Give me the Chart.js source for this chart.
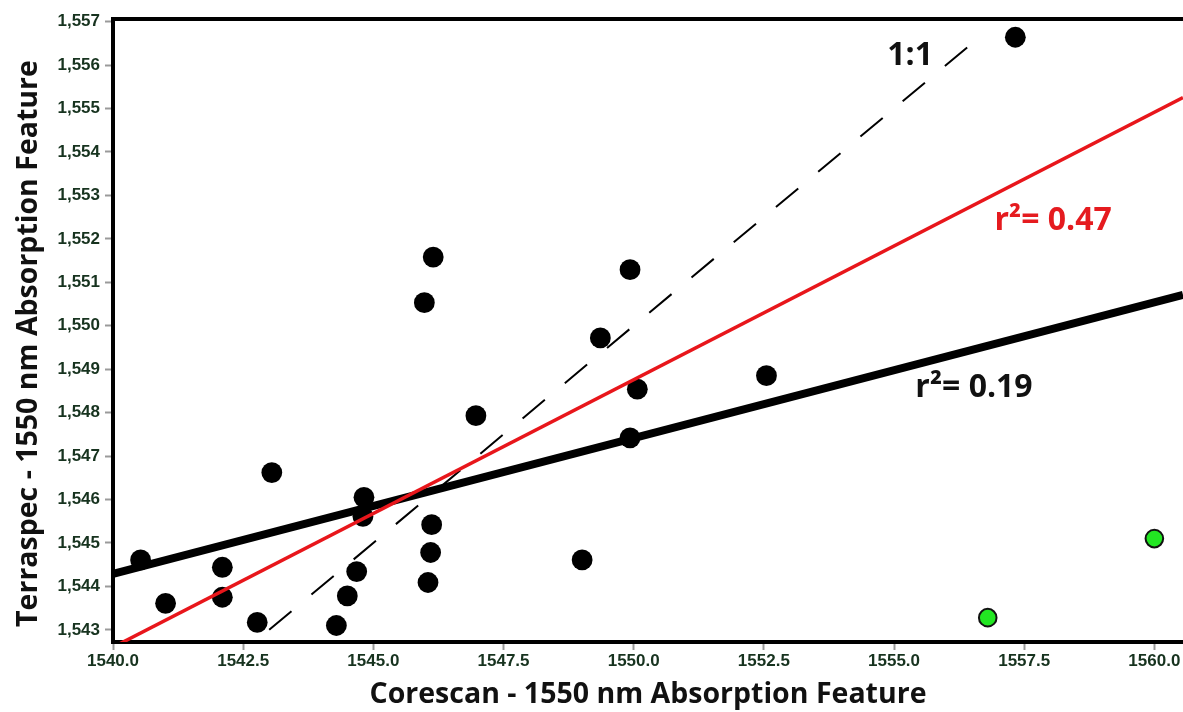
<!DOCTYPE html>
<html>
<head>
<meta charset="utf-8">
<script src="https://cdn.jsdelivr.net/npm/chart.js@4.4.1/dist/chart.umd.min.js"></script>
<style>
  html, body { margin: 0; padding: 0; background: #fff; overflow: hidden; }
  canvas { display: block; }
</style>
</head>
<body>
<canvas id="chart" width="1183" height="712"></canvas>
<script>
// Corescan vs Terraspec position of the 1550 nm absorption feature
const corescanX = [1540.53, 1541.01, 1542.10, 1542.10, 1542.77, 1543.05, 1544.29, 1544.50,
                   1544.68, 1544.82, 1544.80, 1545.98, 1546.15, 1546.12, 1546.10, 1546.05,
                   1546.97, 1549.01, 1549.36, 1549.93, 1549.93, 1550.07, 1552.55, 1557.33];
const terraspecY = [1544.61, 1543.61, 1544.44, 1543.75, 1543.17, 1546.62, 1543.10, 1543.78,
                    1544.34, 1546.05, 1545.61, 1550.53, 1551.58, 1545.42, 1544.78, 1544.09,
                    1547.93, 1544.61, 1549.72, 1551.29, 1547.42, 1548.54, 1548.85, 1556.64];

// samples plotted in green
const outlierX = [1556.80, 1560.00];
const outlierY = [1543.28, 1545.10];

// fitted lines (end points) and the 1:1 reference line
const fitAllX = [1540.00, 1560.55];
const fitAllY = [1544.29, 1550.71];
const fitRedX = [1540.00, 1560.55];
const fitRedY = [1542.60, 1555.25];
const oneToOneX = [1543.00, 1556.70];
const oneToOneY = [1543.00, 1556.70];

// axis ticks
const xTicks = [1540, 1542.5, 1545, 1547.5, 1550, 1552.5, 1555, 1557.5, 1560];
const xTickLabels = ['1540.0', '1542.5', '1545.0', '1547.5', '1550.0', '1552.5', '1555.0', '1557.5', '1560.0'];
const yTicks = [1543, 1544, 1545, 1546, 1547, 1548, 1549, 1550, 1551, 1552, 1553, 1554, 1555, 1556, 1557];
const yTickLabels = ['1,543', '1,544', '1,545', '1,546', '1,547', '1,548', '1,549', '1,550',
                     '1,551', '1,552', '1,553', '1,554', '1,555', '1,556', '1,557'];

// text notes, anchored in data units (left edge, baseline)
const noteText = ['1:1', 'r\u00B2= 0.47', 'r\u00B2= 0.19'];
const noteX = [1554.87, 1556.93, 1555.41];
const noteY = [1556.00, 1552.21, 1548.37];
const noteColor = ['#111111', '#e51b1f', '#111111'];
const noteSize = [32, 32, 32];

const yTitle = 'Terraspec - 1550 nm Absorption Feature';
const yTitleCenter = 1549.59;   // value at the middle of the vertical title

const toPoints = (xs, ys) => xs.map((v, i) => ({ x: v, y: ys[i] }));

const frameAndNotes = {
  id: 'frameAndNotes',
  afterDraw(chart) {
    const { ctx, chartArea, scales } = chart;
    ctx.save();
    // top edge of the plot frame
    ctx.strokeStyle = '#000';
    ctx.lineWidth = 4;
    ctx.beginPath();
    ctx.moveTo(chartArea.left - 2, chartArea.top);
    ctx.lineTo(chartArea.right, chartArea.top);
    ctx.stroke();

    // line labels
    ctx.textAlign = 'left';
    ctx.textBaseline = 'alphabetic';
    noteText.forEach((t, i) => {
      ctx.font = '700 ' + noteSize[i] + 'px "Open Sans", sans-serif';
      ctx.fillStyle = noteColor[i];
      ctx.fillText(t, scales.x.getPixelForValue(noteX[i]), scales.y.getPixelForValue(noteY[i]));
    });

    // vertical axis title
    ctx.translate(29, scales.y.getPixelForValue(yTitleCenter));
    ctx.rotate(-Math.PI / 2);
    ctx.textAlign = 'center';
    ctx.textBaseline = 'middle';
    ctx.font = '700 28.5px "Open Sans", sans-serif';
    ctx.fillStyle = '#111';
    ctx.fillText(yTitle, 0, 0);
    ctx.restore();
  }
};

const tickFont = { family: '"Liberation Sans", Arial, sans-serif', size: 17, weight: 'bold' };
const titleFont = { family: '"Open Sans", sans-serif', size: 28.5, weight: '700', lineHeight: 1 };

new Chart(document.getElementById('chart'), {
  type: 'scatter',
  data: {
    datasets: [
      {
        label: 'r2 = 0.47',
        type: 'line',
        data: toPoints(fitRedX, fitRedY),
        borderColor: '#e8161b',
        borderWidth: 3.5,
        pointRadius: 0,
        fill: false,
        clip: 0,
        order: 0
      },
      {
        label: 'r2 = 0.19',
        type: 'line',
        data: toPoints(fitAllX, fitAllY),
        borderColor: '#000',
        borderWidth: 8,
        pointRadius: 0,
        fill: false,
        clip: 0,
        order: 1
      },
      {
        label: '1:1',
        type: 'line',
        data: toPoints(oneToOneX, oneToOneY),
        borderColor: '#000',
        borderWidth: 2,
        borderDash: [29, 26],
        pointRadius: 0,
        fill: false,
        clip: 0,
        order: 2
      },
      {
        label: 'Samples',
        data: toPoints(corescanX, terraspecY),
        backgroundColor: '#000',
        borderWidth: 0,
        pointRadius: 10.4,
        pointHoverRadius: 10.4,
        clip: false,
        order: 3
      },
      {
        label: 'Outliers',
        data: toPoints(outlierX, outlierY),
        backgroundColor: '#22e622',
        borderColor: '#111',
        borderWidth: 2,
        pointRadius: 8.8,
        pointHoverRadius: 8.8,
        clip: false,
        order: 4
      }
    ]
  },
  options: {
    responsive: false,
    animation: false,
    events: [],
    layout: { autoPadding: false, padding: { top: 19, right: 0, bottom: 0, left: 0 } },
    plugins: {
      legend: { display: false },
      tooltip: { enabled: false },
      title: { display: false }
    },
    scales: {
      x: {
        type: 'linear',
        min: 1540,
        max: 1560.55,
        z: 1,
        afterBuildTicks: (s) => { s.ticks = xTicks.map(v => ({ value: v })); },
        afterFit: (s) => { s.height = 70; },
        ticks: {
          callback: (v) => xTickLabels[xTicks.indexOf(v)],
          font: tickFont,
          color: '#17331f',
          padding: 1,
          maxRotation: 0,
          autoSkip: false
        },
        grid: {
          drawOnChartArea: false,
          drawTicks: true,
          tickLength: 8,
          tickColor: '#9a9a9a',
          tickWidth: 2
        },
        border: { display: true, color: '#000', width: 4 },
        title: {
          display: true,
          text: 'Corescan - 1550 nm Absorption Feature',
          font: titleFont,
          color: '#111',
          padding: { top: 0, bottom: 2.5 }
        }
      },
      y: {
        type: 'linear',
        min: 1542.72,
        max: 1557.06,
        z: 1,
        afterBuildTicks: (s) => { s.ticks = yTicks.map(v => ({ value: v })); },
        afterFit: (s) => { s.width = 113; },
        ticks: {
          callback: (v) => yTickLabels[yTicks.indexOf(v)],
          font: tickFont,
          color: '#17331f',
          padding: 5,
          autoSkip: false
        },
        grid: {
          drawOnChartArea: false,
          drawTicks: true,
          tickLength: 8,
          tickColor: '#9a9a9a',
          tickWidth: 2
        },
        border: { display: true, color: '#000', width: 4 },
        title: { display: false }
      }
    }
  },
  plugins: [frameAndNotes]
});
</script>
</body>
</html>
